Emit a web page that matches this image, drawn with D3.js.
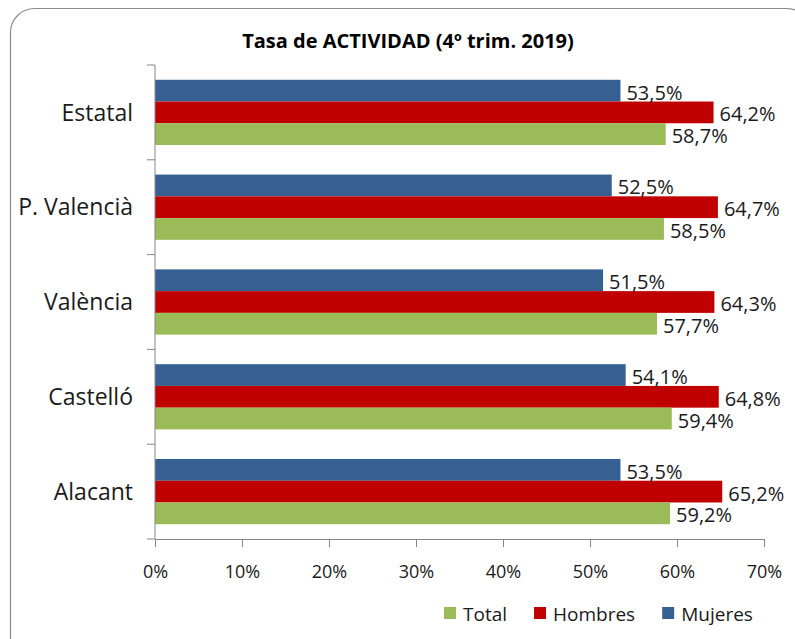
<!DOCTYPE html>
<html>
<head>
<meta charset="utf-8">
<script src="https://cdn.jsdelivr.net/npm/d3@7"></script>
<style>
  body { margin: 0; background: #fff; }
  svg { font-family: "Open Sans", sans-serif; }
</style>
</head>
<body>
<svg id="chart" width="795" height="639"></svg>
<script>
const categories = ["Estatal", "P. Valencià", "València", "Castelló", "Alacant"];
const series = ["Mujeres", "Hombres", "Total"]; // top-to-bottom within each group
const legendOrder = ["Total", "Hombres", "Mujeres"];
const mujeres = [53.5, 52.5, 51.5, 54.1, 53.5];
const hombres = [64.2, 64.7, 64.3, 64.8, 65.2];
const total = [58.7, 58.5, 57.7, 59.4, 59.2];
const xTicks = [0, 10, 20, 30, 40, 50, 60, 70];

const colors = { Mujeres: "#366092", Hombres: "#c00000", Total: "#9bbb59" };
const values = { Mujeres: mujeres, Hombres: hombres, Total: total };

const svg = d3.select("svg#chart");
const fmt = (v) => v.toFixed(1).replace(".", ",") + "%";

// chart area frame (rounded, runs past the right/bottom edges)
svg.append("rect")
  .attr("x", 10.5).attr("y", 8.5)
  .attr("width", 800).attr("height", 660)
  .attr("rx", 24).attr("ry", 24)
  .attr("fill", "none").attr("stroke", "#8c8c8c").attr("stroke-width", 1.2);

svg.append("text")
  .attr("x", 408).attr("y", 48)
  .attr("text-anchor", "middle")
  .attr("font-weight", "bold").attr("font-size", 20)
  .attr("fill", "#000")
  .text("Tasa de ACTIVIDAD (4º trim. 2019)");

const x = d3.scaleLinear().domain([0, 70]).range([155, 764]);
const y0 = d3.scaleBand().domain(categories).range([65, 539]).padding(0);
const y1 = d3.scaleBand().domain(series).range([0, y0.bandwidth()])
  .paddingInner(0).paddingOuter(0.68);

const rows = series.flatMap((s) =>
  categories.map((c, i) => ({ cat: c, series: s, value: values[s][i] }))
);

const bars = svg.append("g");
bars.selectAll("rect")
  .data(rows)
  .join("rect")
  .attr("x", x(0))
  .attr("y", (d) => y0(d.cat) + y1(d.series))
  .attr("height", y1.bandwidth())
  .attr("width", (d) => x(d.value) - x(0))
  .attr("fill", (d) => colors[d.series]);

// value labels
bars.selectAll("text")
  .data(rows)
  .join("text")
  .attr("x", (d) => x(d.value) + 6)
  .attr("y", (d) => y0(d.cat) + y1(d.series) + y1.bandwidth() / 2)
  .attr("dy", "0.45em")
  .attr("font-size", 20)
  .attr("fill", "#1a1a1a")
  .text((d) => fmt(d.value));

// x axis
const axisColor = "#868686";
const xAxis = svg.append("g")
  .attr("transform", `translate(0,${y0.range()[1]})`)
  .call(d3.axisBottom(x).tickValues(xTicks).tickSize(8).tickPadding(18)
    .tickFormat((d) => d + "%"));
xAxis.select(".domain").attr("stroke", axisColor).attr("d", `M${x(0)},0.5H${x(70)}`);
xAxis.selectAll(".tick line").attr("stroke", axisColor);
xAxis.selectAll(".tick text")
  .attr("font-family", "Open Sans, sans-serif")
  .attr("font-size", 18).attr("fill", "#1a1a1a");

// y axis (ticks at category boundaries)
const yAxis = svg.append("g");
yAxis.append("line")
  .attr("x1", x(0)).attr("x2", x(0))
  .attr("y1", y0.range()[0]).attr("y2", y0.range()[1])
  .attr("stroke", axisColor);
const bounds = categories.map((c) => y0(c)).concat([y0.range()[1]]);
yAxis.selectAll("line.tick")
  .data(bounds)
  .join("line")
  .attr("class", "tick")
  .attr("x1", x(0) - 8).attr("x2", x(0))
  .attr("y1", (d) => d).attr("y2", (d) => d)
  .attr("stroke", axisColor);
yAxis.selectAll("text")
  .data(categories)
  .join("text")
  .attr("x", 133)
  .attr("y", (d) => y0(d) + y0.bandwidth() / 2)
  .attr("dy", "0.36em")
  .attr("text-anchor", "end")
  .attr("font-size", 23)
  .attr("fill", "#1a1a1a")
  .text((d) => d);

// legend
const legend = svg.append("g").attr("transform", "translate(444,607)");
let lx = 0;
legendOrder.forEach((s) => {
  const g = legend.append("g").attr("transform", `translate(${lx},0)`);
  g.append("rect").attr("width", 12).attr("height", 12).attr("fill", colors[s]);
  const t = g.append("text")
    .attr("x", 19).attr("y", 13.5)
    .attr("font-size", 19).attr("fill", "#1a1a1a")
    .text(s);
  lx += 19 + t.node().getComputedTextLength() + 27;
});
</script>
</body>
</html>
